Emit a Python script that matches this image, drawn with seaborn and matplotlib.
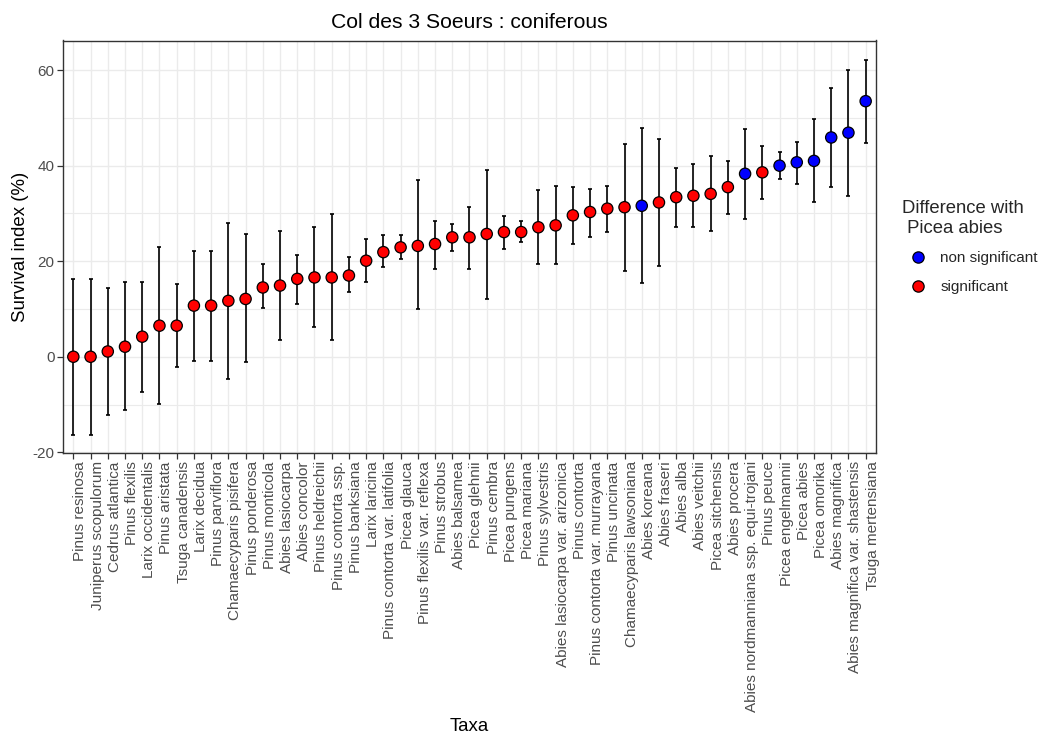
import numpy as np
import pandas as pd
import matplotlib
matplotlib.use("Agg")
import matplotlib.pyplot as plt
import seaborn as sns
from matplotlib.ticker import MultipleLocator

taxa = [
    "Pinus resinosa", "Juniperus scopulorum", "Cedrus atlantica", "Pinus flexilis",
    "Larix occidentalis", "Pinus aristata", "Tsuga canadensis", "Larix decidua",
    "Pinus parviflora", "Chamaecyparis pisifera", "Pinus ponderosa", "Pinus monticola",
    "Abies lasiocarpa", "Abies concolor", "Pinus heldreichii", "Pinus contorta ssp.",
    "Pinus banksiana", "Larix laricina", "Pinus contorta var. latifolia", "Picea glauca",
    "Pinus flexilis var. reflexa", "Pinus strobus", "Abies balsamea", "Picea glehnii",
    "Pinus cembra", "Picea pungens", "Picea mariana", "Pinus sylvestris",
    "Abies lasiocarpa var. arizonica", "Pinus contorta", "Pinus contorta var. murrayana",
    "Pinus uncinata", "Chamaecyparis lawsoniana", "Abies koreana", "Abies fraseri",
    "Abies alba", "Abies veitchii", "Picea sitchensis", "Abies procera",
    "Abies nordmanniana ssp. equi-trojani", "Pinus peuce", "Picea engelmannii",
    "Picea abies", "Picea omorika", "Abies magnifica", "Abies magnifica var. shastensis",
    "Tsuga mertensiana",
]
survival = [0.0, 0.0, 1.1, 2.1, 4.2, 6.5, 6.5, 10.7, 10.7, 11.7, 12.1, 14.5, 14.9, 16.3,
            16.6, 16.6, 17.0, 20.1, 21.9, 22.9, 23.2, 23.6, 25.0, 25.0, 25.7, 26.1, 26.1,
            27.1, 27.5, 29.6, 30.3, 31.0, 31.3, 31.6, 32.3, 33.4, 33.7, 34.1, 35.5, 38.3,
            38.6, 40.0, 40.7, 41.0, 45.9, 46.9, 53.5]
lower = [-16.4, -16.4, -12.2, -11.2, -7.3, -9.8, -2.1, -0.8, -0.8, -4.6, -1.2, 10.1, 3.4,
         11.0, 6.2, 3.4, 13.5, 15.6, 18.7, 20.5, 10.0, 18.4, 22.2, 18.4, 12.1, 22.6, 24.0,
         19.4, 19.4, 23.6, 25.0, 26.1, 18.0, 15.5, 19.0, 27.1, 27.1, 26.4, 29.9, 28.8,
         33.0, 37.2, 36.2, 32.3, 35.5, 33.7, 44.8]
upper = [16.3, 16.3, 14.3, 15.7, 15.7, 22.9, 15.2, 22.2, 22.2, 28.1, 25.7, 19.4, 26.4,
         21.2, 27.1, 29.9, 20.8, 24.7, 25.4, 25.4, 36.9, 28.5, 27.8, 31.3, 39.0, 29.5, 28.5,
         34.8, 35.8, 35.5, 35.1, 35.8, 44.5, 47.9, 45.6, 39.6, 40.3, 42.1, 41.0, 47.7,
         44.2, 42.8, 44.9, 49.8, 56.3, 60.1, 62.2]
nonsig_taxa = ["Abies koreana", "Abies nordmanniana ssp. equi-trojani", "Picea engelmannii",
               "Picea abies", "Picea omorika", "Abies magnifica",
               "Abies magnifica var. shastensis", "Tsuga mertensiana"]
difference = ["non significant" if t in nonsig_taxa else "significant" for t in taxa]

df = pd.DataFrame({"Taxa": taxa, "Survival": survival, "low": lower, "high": upper,
                   "Difference": difference})

sns.set_theme(style="whitegrid")
plt.rcParams['font.family'] = ['Liberation Sans', 'DejaVu Sans']
plt.rcParams['axes.unicode_minus'] = False

W, H = 1047, 738
fig = plt.figure(figsize=(W / 100, H / 100), dpi=100)
ax = fig.add_axes([63 / W, 1 - 453 / H, (876 - 63) / W, (453 - 40.5) / H])

sns.scatterplot(data=df, x="Taxa", y="Survival", hue="Difference",
                hue_order=["non significant", "significant"],
                palette={"non significant": "#0000FF", "significant": "#FF0000"},
                s=66, edgecolor="black", linewidth=0.9, zorder=3, ax=ax)
ax.errorbar(df["Taxa"], df["Survival"],
            yerr=[df["Survival"] - df["low"], df["high"] - df["Survival"]],
            fmt="none", ecolor="black", elinewidth=1.2, capsize=1.6, capthick=1.2, zorder=2)

ax.set_xlim(-0.6, len(taxa) - 1 + 0.6)
ax.set_ylim(-20.15, 66.2)
ax.yaxis.set_major_locator(MultipleLocator(20))
ax.yaxis.set_minor_locator(MultipleLocator(10))
ax.set_facecolor("white")
ax.grid(which="major", color="#EBEBEB", linewidth=1.0)
ax.grid(which="minor", axis="y", color="#EBEBEB", linewidth=0.8)
ax.set_axisbelow(True)
for sp in ax.spines.values():
    sp.set_color("#333333")
    sp.set_linewidth(1.0)

ax.tick_params(axis="both", which="major", length=4, width=0.9, color="#333333",
               labelsize=11, labelcolor="#4D4D4D", bottom=True, left=True, pad=2)
ax.tick_params(axis="y", which="minor", length=0, left=False)
ax.set_xticks(range(len(taxa)))
ax.set_xticklabels(taxa, rotation=90, ha="left", va="top")

ax.set_xlabel("Taxa", fontsize=13.4, color="black")
ax.xaxis.set_label_coords(0.5, -(727 - 453) / 412.5)
ax.xaxis.label.set_va("center")
ax.set_ylabel("Survival index (%)", fontsize=13.4, color="black")
ax.yaxis.set_label_coords(-(63 - 21) / 813, 0.5)
ax.yaxis.label.set_va("center")
ax.set_title("Col des 3 Soeurs : coniferous", fontsize=15.2, color="black", pad=9)

sns.move_legend(ax, "upper left", bbox_to_anchor=(890 / W, 1 - 188 / H),
                bbox_transform=fig.transFigure, frameon=False,
                title="Difference with\n Picea abies", title_fontsize=13.3, fontsize=11,
                alignment="left", labelspacing=0.95, handletextpad=0.5, borderpad=0.3)

fig.savefig("out.png", dpi=100)
